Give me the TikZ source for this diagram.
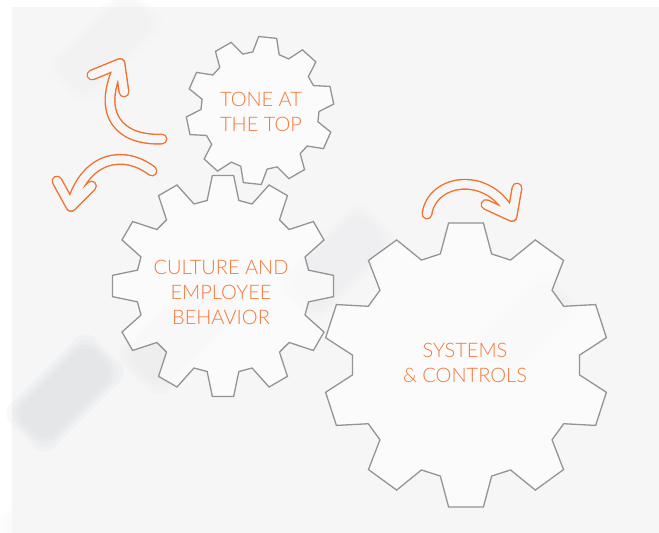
\documentclass[tikz,border=0pt]{standalone}
\usepackage{fontspec}
\setmainfont{Lato Light}
\usetikzlibrary{positioning}

\definecolor{bgC}{RGB}{246,246,247}
\definecolor{blobC}{RGB}{220,221,224}
\definecolor{gearC}{RGB}{148,148,150}
\definecolor{orangeC}{RGB}{242,112,44}
\definecolor{textC}{RGB}{243,121,58}

\tikzset{
  gearline/.style={draw=gearC, line width=1.3pt, line join=miter, fill=white, fill opacity=0.6},
  arrowout/.style={draw=orangeC, line width=11pt, line cap=round, line join=round},
  arrowin/.style={draw=bgC, line width=8.2pt, line cap=round, line join=round},
  geartext/.style={text=textC, align=center, font=\fontsize{20}{25}\selectfont},
}

% gear: centre, teeth, outer r, inner r, tip half-angle, base half-angle, turn
\newcommand{\drawgear}[7]{%
  \filldraw[gearline, shift={(#1)}] ({#7+#6}:#4)
    \foreach \k in {1,...,#2}{
      -- ({#7+\k*360/#2-#6}:#4) -- ({#7+\k*360/#2-#5}:#3)
      -- ({#7+\k*360/#2+#5}:#3) -- ({#7+\k*360/#2+#6}:#4)
    } -- cycle;
}

% soft background patch: cx, cy, length, width, strength
\newcommand{\blob}[5]{%
  \foreach \g in {10,6,3,0}{
    \fill[blobC!#5, opacity=0.2, rotate around={45:(#1,#2)}, rounded corners=14pt]
      ({#1-#3/2-\g},{#2-#4/2-\g}) rectangle ({#1+#3/2+\g},{#2+#4/2+\g});
  }
}

\begin{document}
\begin{tikzpicture}[x=1pt, y=-1pt]
  \useasboundingbox (0,0) rectangle (659,533);

  % background
  \fill[bgC] (12,7) rectangle (659,533);
  \blob{105}{45}{100}{40}{40}
  \blob{65}{393}{100}{42}{100}
  \blob{337}{262}{100}{40}{55}
  \blob{182}{332}{110}{44}{60}
  \blob{527}{325}{85}{38}{45}
  \blob{118}{442}{110}{44}{25}
  \blob{40}{515}{70}{36}{25}
  \blob{592}{250}{80}{36}{25}
  \blob{470}{470}{100}{40}{20}
  \blob{290}{480}{100}{40}{20}

  % gears
  \drawgear{466,365}{10}{143}{114}{7}{13}{90}
  \drawgear{223,286}{12}{111}{87}{5.5}{10.5}{90}
  \drawgear{260,110.5}{10}{74}{59}{7}{13}{-84}

  % arrows
  \foreach \s in {arrowout, arrowin}{
    \draw[\s] (162,139) .. controls (120,141) and (95,115) .. (120,63.5)
      (92,75) -- (120,63.5) -- (124,92);
    \draw[\s] (152,171) .. controls (125,150) and (85,155) .. (71,206.5)
      (57,181) -- (71,206.5) -- (91.5,186);
    \draw[\s] (427,214) .. controls (432,178) and (490,170) .. (512,216.5)
      (517,188) -- (512,216.5) -- (486,204.5);
  }

  % labels
  \node[geartext] (tone) at (261,112) {TONE AT\\THE TOP};
  \node[geartext] (culture) at (221,292) {CULTURE AND\\EMPLOYEE\\BEHAVIOR};
  \node[geartext] (systems) at (465,363) {SYSTEMS\\\& CONTROLS};
\end{tikzpicture}
\end{document}
